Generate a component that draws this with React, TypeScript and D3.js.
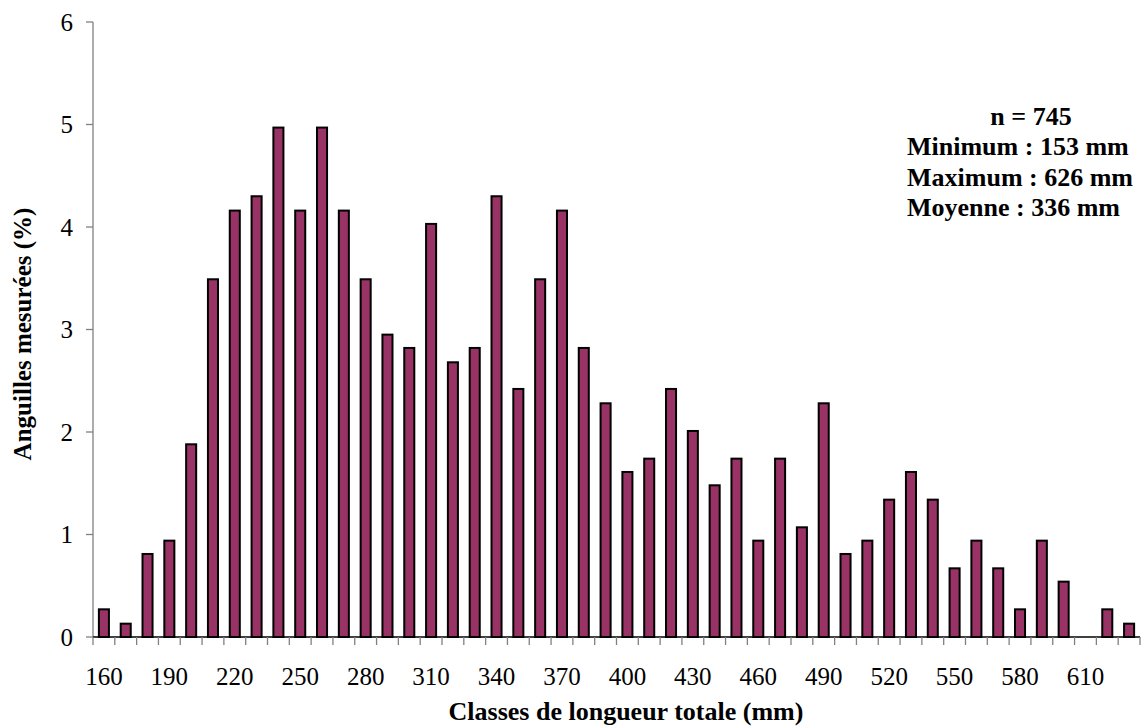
import React, { useEffect, useRef } from 'react';
import * as d3 from 'd3';

// Length classes (mm) and share of measured eels (%), n = 745
const classes = [
  160, 170, 180, 190, 200, 210, 220, 230, 240, 250, 260, 270, 280, 290, 300, 310,
  320, 330, 340, 350, 360, 370, 380, 390, 400, 410, 420, 430, 440, 450, 460, 470,
  480, 490, 500, 510, 520, 530, 540, 550, 560, 570, 580, 590, 600, 610, 620, 630,
];
const percents = [
  0.27, 0.13, 0.81, 0.94, 1.88, 3.49, 4.16, 4.30, 4.97, 4.16, 4.97, 4.16, 3.49, 2.95, 2.82, 4.03,
  2.68, 2.82, 4.30, 2.42, 3.49, 4.16, 2.82, 2.28, 1.61, 1.74, 2.42, 2.01, 1.48, 1.74, 0.94, 1.74,
  1.07, 2.28, 0.81, 0.94, 1.34, 1.61, 1.34, 0.67, 0.94, 0.67, 0.27, 0.94, 0.54, 0, 0.27, 0.13,
];
const xTickLabels = [160, 190, 220, 250, 280, 310, 340, 370, 400, 430, 460, 490, 520, 550, 580, 610];
const yTicks = [0, 1, 2, 3, 4, 5, 6];
const statsLines = ['Minimum : 153 mm', 'Maximum : 626 mm', 'Moyenne : 336 mm'];
const nLabel = 'n = 745';

const W = 1143;
const H = 726;
const FONT = '"Liberation Serif", "Times New Roman", serif';

export default function App() {
  const ref = useRef<SVGSVGElement | null>(null);

  useEffect(() => {
    if (!ref.current) return;
    const svg = d3.select(ref.current);
    svg.selectAll('*').remove();

    const left = 93, right = 1140, top = 22, bottom = 637;

    const x = d3.scaleBand<number>()
      .domain(classes)
      .range([left, right])
      .paddingInner(0.54)
      .paddingOuter(0.27);

    const y = d3.scaleLinear().domain([0, 6]).range([bottom, top]);

    const step = x.step();

    // bars
    svg.append('g')
      .selectAll('rect')
      .data(classes)
      .join('rect')
      .attr('x', d => x(d)!)
      .attr('y', (d, i) => y(percents[i]))
      .attr('width', x.bandwidth())
      .attr('height', (d, i) => bottom - y(percents[i]))
      .attr('fill', '#993366')
      .attr('stroke', '#000')
      .attr('stroke-width', 2)
      .attr('display', (d, i) => (percents[i] > 0 ? null : 'none'));

    // y axis
    const yAxis = svg.append('g').attr('stroke', '#808080');
    yAxis.append('line')
      .attr('x1', left).attr('x2', left)
      .attr('y1', top).attr('y2', bottom)
      .attr('stroke-width', 1.3);
    yAxis.selectAll('line.tick')
      .data(yTicks)
      .join('line')
      .attr('class', 'tick')
      .attr('x1', left - 7).attr('x2', left)
      .attr('y1', d => y(d)).attr('y2', d => y(d))
      .attr('stroke-width', 1.3);

    svg.append('g')
      .selectAll('text')
      .data(yTicks)
      .join('text')
      .attr('x', 73)
      .attr('y', d => y(d) + 8.5)
      .attr('text-anchor', 'end')
      .attr('font-family', FONT)
      .attr('font-size', 25)
      .attr('fill', '#000')
      .text(d => d);

    // x axis
    const xAxis = svg.append('g').attr('stroke', '#000');
    xAxis.append('line')
      .attr('x1', left).attr('x2', right)
      .attr('y1', bottom).attr('y2', bottom)
      .attr('stroke-width', 1.3);
    const boundaries = d3.range(classes.length + 1).map(i => left + i * step);
    xAxis.selectAll('line.tick')
      .data(boundaries)
      .join('line')
      .attr('class', 'tick')
      .attr('x1', d => d).attr('x2', d => d)
      .attr('y1', bottom).attr('y2', bottom + 8)
      .attr('stroke', '#808080')
      .attr('stroke-width', 1.3);

    svg.append('g')
      .selectAll('text')
      .data(xTickLabels)
      .join('text')
      .attr('x', d => x(d)! + x.bandwidth() / 2)
      .attr('y', 685)
      .attr('text-anchor', 'middle')
      .attr('font-family', FONT)
      .attr('font-size', 25)
      .attr('fill', '#000')
      .text(d => d);

    // axis titles
    svg.append('text')
      .attr('x', 626)
      .attr('y', 720)
      .attr('text-anchor', 'middle')
      .attr('font-family', FONT)
      .attr('font-size', 26)
      .attr('font-weight', 'bold')
      .text('Classes de longueur totale (mm)');

    svg.append('text')
      .attr('transform', 'translate(31,334) rotate(-90)')
      .attr('text-anchor', 'middle')
      .attr('font-family', FONT)
      .attr('font-size', 25)
      .attr('font-weight', 'bold')
      .text('Anguilles mesurées (%)');

    // stats box
    svg.append('text')
      .attr('x', 1031)
      .attr('y', 125)
      .attr('text-anchor', 'middle')
      .attr('font-family', FONT)
      .attr('font-size', 26)
      .attr('font-weight', 'bold')
      .text(nLabel);

    svg.append('g')
      .selectAll('text')
      .data(statsLines)
      .join('text')
      .attr('x', 907)
      .attr('y', (d, i) => 155 + i * 30.5)
      .attr('font-family', FONT)
      .attr('font-size', 26)
      .attr('font-weight', 'bold')
      .text(d => d);
  }, []);

  return (
    <div style={{ position: 'absolute', left: 0, top: 0, width: W, height: H, background: '#fff' }}>
      <svg ref={ref} width={W} height={H} style={{ display: 'block' }} />
    </div>
  );
}
